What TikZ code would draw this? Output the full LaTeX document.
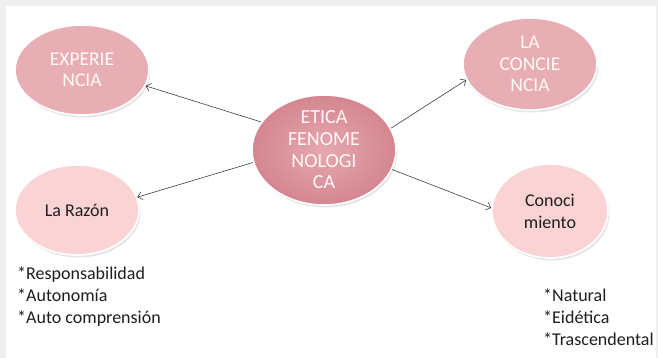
\documentclass[tikz,border=0pt]{standalone}
\usepackage{fontspec}
\setmainfont{Carlito}
\usetikzlibrary{shapes.geometric,arrows.meta,shadows}

\definecolor{framegrey}{HTML}{EFEFEF}
\definecolor{rose}{HTML}{E7AFB4}
\definecolor{roseinner}{HTML}{E6A8B0}
\definecolor{roseouter}{HTML}{D4868F}
\definecolor{blush}{HTML}{FAD3D5}
\definecolor{softwhite}{HTML}{FFF8F8}
\definecolor{ink}{HTML}{1E1E1E}

\begin{document}
\begin{tikzpicture}[x=1pt,y=-1pt,
  bubble/.style={ellipse,draw=white,line width=1.6pt,inner sep=0pt,align=center,
    drop shadow={opacity=0.2,shadow xshift=1.5pt,shadow yshift=-2.5pt}},
  upper/.style={bubble,fill=rose,text=softwhite,
    font=\fontsize{19.5}{21.5}\selectfont},
  lower/.style={bubble,fill=blush,text=ink,
    font=\fontsize{18}{22}\selectfont},
  core/.style={bubble,inner color=roseinner,outer color=roseouter},
  coretext/.style={align=center,text=softwhite,inner sep=0pt,
    font=\fontsize{20}{21.7}\selectfont},
  list/.style={align=left,anchor=west,inner sep=0pt,text=ink,
    font=\fontsize{18}{22}\selectfont},
  link/.style={draw=black!75,line width=0.6pt,
    -{Straight Barb[length=4.5pt,width=8pt]}}
]
% page frame
\fill[framegrey] (0,0) rectangle (658,358);
\fill[white] (6,6) rectangle (656,358);
\useasboundingbox (0,0) rectangle (658,358);

% central idea
\node[core,minimum width=144pt,minimum height=110pt] (eti) at (324,150) {};
\node[coretext] (etitxt) at (eti.center) {ETICA\\FENOME\\NOLOGI\\CA};

% surrounding ideas
\node[upper,minimum width=134pt,minimum height=90pt] (exp) at (82,70) {EXPERIE\\NCIA};
\node[upper,minimum width=134pt,minimum height=92pt] (conc) at (530,64) {LA\\CONCIE\\NCIA};
\node[lower,minimum width=124pt,minimum height=90pt] (raz) at (77,210) {La Razón};
\node[lower,minimum width=116pt,minimum height=94pt] (con) at (550,211) {Conoci\\miento};

% connectors
\draw[link] (eti.156) -- (exp.-14);
\draw[link] (eti.18) -- (conc.-166);
\draw[link] (eti.190) -- (raz.12);
\draw[link] (eti.-16) -- (con.177);

% lists
\node[list] (razlist) at (17,297) {*Responsabilidad\\*Autonomía\\*Auto comprensión};
\node[list] (conlist) at (543,317) {*Natural\\*Eidética\\*Trascendental};
\end{tikzpicture}
\end{document}
